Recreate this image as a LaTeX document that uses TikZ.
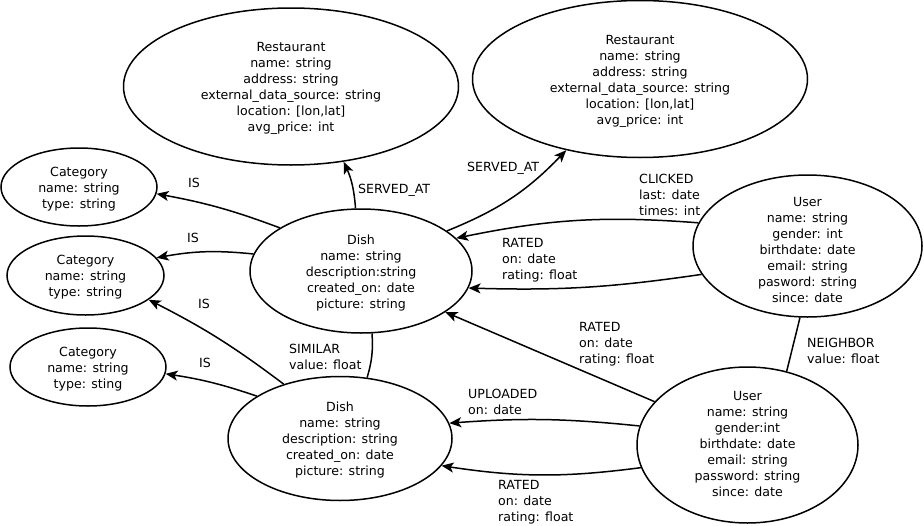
\documentclass[tikz,border=0pt]{standalone}
\usepackage{fontspec}
\setmainfont{DejaVu Sans}
\usetikzlibrary{shapes.geometric,arrows.meta}
\begin{document}
\begin{tikzpicture}[x=1pt,y=-1pt,
  every node/.style={font=\fontsize{12.6}{16}\selectfont},
  ent/.style={draw, ellipse, line width=1.5pt, inner sep=0pt},
  txt/.style={align=center, inner sep=0pt, yshift=-2pt},
  lbl/.style={align=left, anchor=west, inner sep=0pt},
  arr/.style={line width=1.5pt, -{Stealth[length=12pt,width=10pt,inset=3pt]}},
  lnk/.style={line width=1.5pt}]
\useasboundingbox (0,0) rectangle (924,525);

% entities
\node[ent, minimum width=335pt, minimum height=157pt] (r1) at (291,86.5) {};
\node[txt] (r1t) at (r1) {Restaurant\\name: string\\address: string\\external\_data\_source: string\\location: [lon,lat]\\avg\_price: int};
\node[ent, minimum width=335pt, minimum height=157pt] (r2) at (640,79) {};
\node[txt] (r2t) at (r2) {Restaurant\\name: string\\address: string\\external\_data\_source: string\\location: [lon,lat]\\avg\_price: int};

\node[ent, minimum width=156pt, minimum height=78pt] (c1) at (79,187) {};
\node[txt] (c1t) at (c1) {Category\\name: string\\type: string};
\node[ent, minimum width=157pt, minimum height=79pt] (c2) at (85.5,275.5) {};
\node[txt] (c2t) at (c2) {Category\\name: string\\type: string};
\node[ent, minimum width=156pt, minimum height=78pt] (c3) at (88,367) {};
\node[txt] (c3t) at (c3) {Category\\name: string\\type: sting};

\node[ent, minimum width=222pt, minimum height=124pt] (d1) at (361,271) {};
\node[txt] (d1t) at (d1) {Dish\\name: string\\description:string\\created\_on: date\\picture: string};
\node[ent, minimum width=224pt, minimum height=124pt] (d2) at (340,438.5) {};
\node[txt] (d2t) at (d2) {Dish\\name: string\\description: string\\created\_on: date\\picture: string};

\node[ent, minimum width=229pt, minimum height=142pt] (u1) at (807.5,246) {};
\node[txt] (u1t) at (807.5,247.5) {User\\name: string\\gender: int\\birthdate: date\\email: string\\pasword: string\\since: date};
\node[ent, minimum width=221pt, minimum height=156pt] (u2) at (747.5,445) {};
\node[txt] (u2t) at (747.5,441.5) {User\\name: string\\gender:int\\birthdate: date\\email: string\\password: string\\since: date};

% edges
\draw[arr] (d1.95) to[bend right=10] (r1.-55);
\node[lbl] (l1) at (358,190) {SERVED\_AT};
\draw[arr] (d1.25) to[bend right=12] (r2.224);
\node[lbl] (l2) at (467,168) {SERVED\_AT};
\draw[arr] (u1.168) to[bend right=8] (d1.19);
\node[lbl] (l3) at (639,194.5) {CLICKED\\last: date\\times: int};
\draw[arr] (u1.195) to[bend left=5] (d1.-9);
\node[lbl] (l4) at (502,260.5) {RATED\\on: date\\rating: float};
\draw[arr] (u2.155) -- (d1.-26);
\node[lbl] (l5) at (579,344) {RATED\\on: date\\rating: float};
\draw[arr] (u2.170) to[bend right=5] (d2.8);
\node[lbl] (l6) at (468,401.5) {UPLOADED\\on: date};
\draw[arr] (u2.192) to[bend left=8] (d2.-15);
\node[lbl] (l7) at (498,502) {RATED\\on: date\\rating: float};
\draw[lnk] (u1.264) -- (u2.62);
\node[lbl] (l8) at (807,351) {NEIGHBOR\\value: float};
\draw[lnk] (d1.-80) to[bend left=10] (d2.66);
\node[lbl] (l9) at (289,357) {SIMILAR\\value: float};

\draw[arr] (d1.152) to[bend right=5] (c1.-5);
\node[lbl] (l10) at (188,183) {IS};
\draw[arr] (d1.171) to[bend right=8] (c2.14);
\node[lbl] (l11) at (187,238) {IS};
\draw[arr] (d2.136) to[bend right=5] (c2.-21);
\node[lbl] (l12) at (198,304) {IS};
\draw[arr] (d2.153) to[bend right=5] (c3.-5);
\node[lbl] (l13) at (199,363) {IS};
\end{tikzpicture}
\end{document}
